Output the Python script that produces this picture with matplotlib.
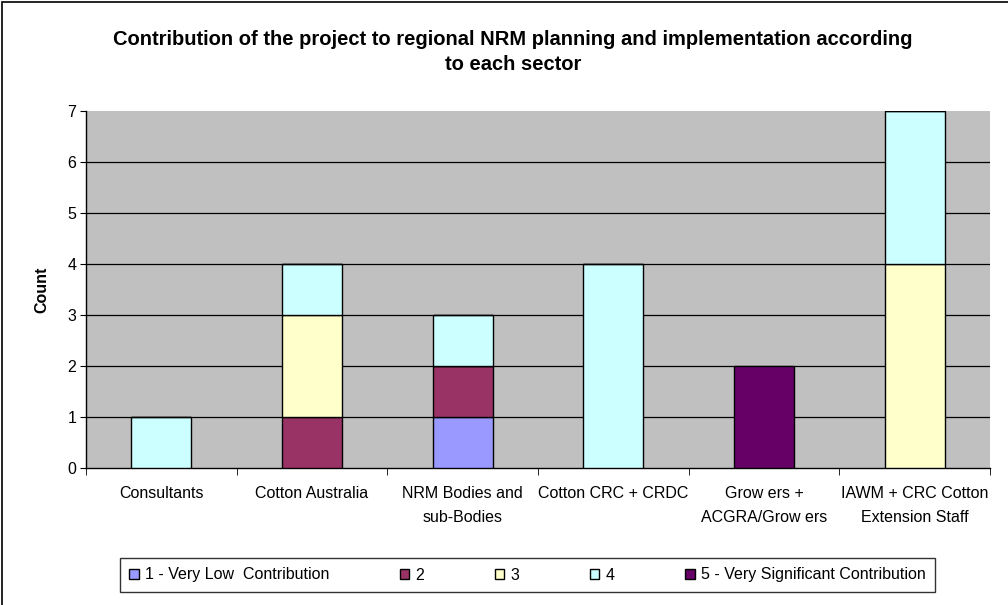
import matplotlib.pyplot as plt
import numpy as np
from matplotlib.patches import Rectangle

plt.rcParams['font.family'] = ['Liberation Sans', 'DejaVu Sans']

# categories and counts per rating level
sectors = ['Consultants', 'Cotton Australia', 'NRM Bodies and\nsub-Bodies',
           'Cotton CRC + CRDC', 'Grow ers +\nACGRA/Grow ers',
           'IAWM + CRC Cotton\nExtension Staff']
levels = ['1 - Very Low  Contribution', '2', '3', '4',
          '5 - Very Significant Contribution']
r1 = [0, 0, 1, 0, 0, 0]
r2 = [0, 1, 1, 0, 0, 0]
r3 = [0, 2, 0, 0, 0, 4]
r4 = [1, 1, 1, 4, 0, 3]
r5 = [0, 0, 0, 0, 2, 0]
colors = ['#9999FF', '#993366', '#FFFFCC', '#CCFFFF', '#660066']

fig = plt.figure(figsize=(10.08, 6.05), dpi=100)
ax = fig.add_axes([86 / 1008, 1 - 468 / 605, (990 - 86) / 1008, (468 - 111) / 605])
ax.set_facecolor('#C0C0C0')

x = np.arange(len(sectors))
bottom = np.zeros(len(sectors))
for vals, lab, col in zip([r1, r2, r3, r4, r5], levels, colors):
    vals = np.array(vals)
    ax.bar(x, vals, width=0.4, bottom=bottom, color=col, edgecolor='black',
           linewidth=1, label=lab, zorder=3)
    bottom += vals

ax.set_xlim(-0.5, len(sectors) - 0.5)
ax.set_ylim(0, 7)
ax.set_yticks(range(8))
for v in range(1, 7):
    ax.axhline(v, color='black', linewidth=0.9, zorder=1)

ax.set_xticks(x)
ax.set_xticklabels(sectors, fontsize=11.5, linespacing=1.72)
ax.tick_params(axis='x', length=0, pad=13)
ax.set_xticks(np.arange(-0.5, len(sectors)), minor=True)
ax.tick_params(axis='x', which='minor', length=5, direction='out')
ax.tick_params(axis='y', labelsize=11.5, length=4, direction='out', pad=3)

for s in ['top', 'right']:
    ax.spines[s].set_visible(False)
ax.spines['left'].set_linewidth(1)
ax.spines['bottom'].set_linewidth(1)

ax.set_ylabel('Count', fontsize=11.5, fontweight='bold', labelpad=13)

fig.text(513 / 1008, 1 - 52 / 605, 'Contribution of the project to regional NRM planning and implementation according\nto each sector',
         ha='center', va='center', fontsize=14.5, fontweight='bold', linespacing=1.45)

leg = ax.legend(loc='center', bbox_to_anchor=(527.5 / 1008, 1 - 575 / 605),
                bbox_transform=fig.transFigure, ncol=5, fontsize=11.5,
                frameon=True, fancybox=False, edgecolor='black', handlelength=0.6,
                handleheight=0.6, handletextpad=0.4, columnspacing=4.4,
                borderpad=0.6)
leg.get_frame().set_linewidth(1)

# outer chart border
fig.patches.append(Rectangle((2 / 1008, -0.05), 1.1, 1 - 2 / 605 + 0.05,
                             transform=fig.transFigure, fill=False,
                             edgecolor='black', linewidth=1.2))

fig.savefig('out.png', dpi=100)
